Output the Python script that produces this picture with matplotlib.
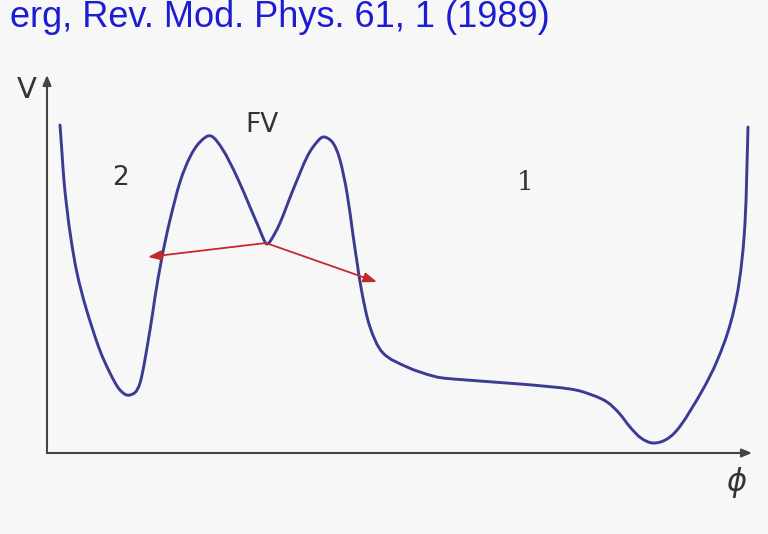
import matplotlib
matplotlib.use("Agg")
import matplotlib.pyplot as plt
import numpy as np
from matplotlib.path import Path
from matplotlib.patches import PathPatch

# potential V(phi) (arbitrary units)
phi = [13, 15, 17, 20, 24, 30, 39, 52, 63, 73, 83, 93, 103, 108, 115, 123, 133,
       143, 153, 164, 176, 190, 203, 212, 217, 220, 224, 233, 246, 260, 270, 277, 286, 293,
       300, 306, 310, 315, 323, 336, 360, 386, 406, 473, 523, 545, 560, 572, 583,
       594, 606, 620, 634, 655, 670, 683, 692, 698, 701]
V = [328, 300, 272, 244, 214, 180, 145, 105, 80, 63, 58, 70, 123, 156, 196, 233, 271,
     296, 311, 317, 303, 276, 246, 225, 213, 209, 213, 230, 263, 296, 311, 316, 310, 293,
     260, 218, 191, 160, 126, 100, 86, 77, 74, 69, 64, 58, 51, 40, 26,
     15, 10, 14, 28, 62, 92, 128, 170, 230, 326]

# tunnelling arrows out of the false vacuum
fv_point = (219, 210)
tunnel_targets = [(101, 196), (330, 171)]

labels = [("2", 73, 275, "DejaVu Sans"), ("FV", 215, 328, "DejaVu Sans"),
          ("1", 478, 270, "DejaVu Serif")]
header = "erg, Rev. Mod. Phys. 61, 1 (1989)"


def smooth_path(xs, ys):
    # catmull-rom through the points, drawn as cubic bezier segments
    p = np.column_stack([xs, ys]).astype(float)
    verts = [p[0]]
    codes = [Path.MOVETO]
    for i in range(len(p) - 1):
        p0 = p[i - 1] if i > 0 else p[i]
        p3 = p[i + 2] if i + 2 < len(p) else p[i + 1]
        c1 = p[i] + (p[i + 1] - p0) / 6
        c2 = p[i + 1] - (p3 - p[i]) / 6
        verts += [c1, c2, p[i + 1]]
        codes += [Path.CURVE4] * 3
    return Path(verts, codes)


W, H = 768, 534
fig = plt.figure(figsize=(W / 100, H / 100), dpi=100, facecolor="#f7f7f7")
ax = fig.add_axes([47 / W, (H - 453) / H, 705 / W, 378 / H])
ax.set_xlim(0, 705)
ax.set_ylim(0, 378)
ax.axis("off")

ax.add_patch(PathPatch(smooth_path(phi, V), facecolor="none", edgecolor="#3b3b94",
                       lw=2.1, capstyle="round", joinstyle="round"))

# axes with arrows
axis_kw = dict(arrowstyle="-|>,head_length=0.6,head_width=0.25",
               color="#444444", lw=1.5, shrinkA=0, shrinkB=0)
ax.annotate("", xy=(705, 0), xytext=(0, 0), arrowprops=axis_kw,
            annotation_clip=False)
ax.annotate("", xy=(0, 378), xytext=(0, 0), arrowprops=axis_kw,
            annotation_clip=False)

for tx, ty in tunnel_targets:
    ax.annotate("", xy=(tx, ty), xytext=fv_point,
                arrowprops=dict(arrowstyle="-|>,head_length=0.8,head_width=0.3",
                                color="#c42a2a", lw=1.3, shrinkA=0, shrinkB=0))

for txt, x, y, fam in labels:
    ax.text(x, y, txt, fontsize=19, color="#333333", ha="center", va="center",
            family=fam)

ax.text(-20, 363, "V", fontsize=21, color="#333333", ha="center", va="center",
        clip_on=False)
ax.text(690, -29, r"$\phi$", fontsize=22, color="#333333", ha="center",
        va="center", clip_on=False)

fig.text(10 / W, (H - 27) / H, header, fontsize=26, color="#1c1cd2",
         family="Liberation Sans", ha="left", va="baseline")

fig.savefig("out.png", dpi=100, facecolor=fig.get_facecolor())
